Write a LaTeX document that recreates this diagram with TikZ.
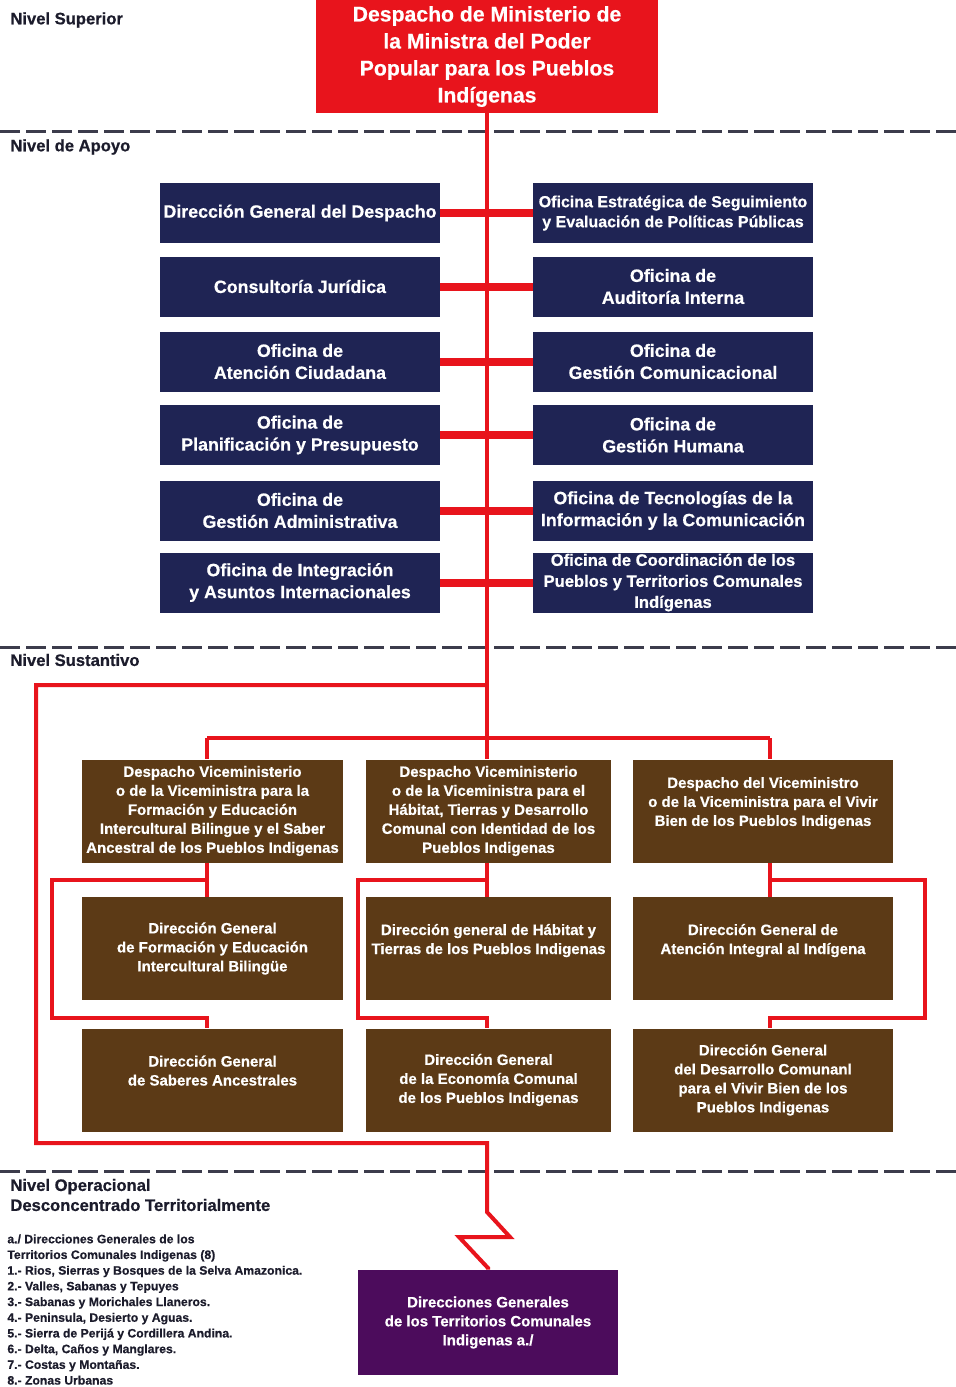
\documentclass[tikz,border=0pt]{standalone}
\usepackage{fontspec}
\setmainfont{Liberation Sans Bold}[FakeBold=0.6]
\definecolor{navyc}{RGB}{31,36,84}
\definecolor{brownc}{RGB}{92,58,22}
\definecolor{purplec}{RGB}{76,12,92}
\definecolor{redc}{RGB}{232,20,28}
\definecolor{dashc}{RGB}{60,60,76}
\definecolor{labelc}{RGB}{28,28,44}
\begin{document}
\begin{tikzpicture}[x=0.5pt,y=-0.5pt,
  navybox/.style={fill=navyc, text=white, font=\fontsize{8.9}{11}\selectfont, minimum width=140pt, minimum height=30pt, align=center, inner sep=0pt},
  brownbox/.style={fill=brownc, text=white, font=\fontsize{7.5}{9.5}\selectfont, minimum height=51.5pt, align=center, inner sep=0pt},
  topbox/.style={fill=redc, text=white, font=\fontsize{10.6}{13.5}\selectfont, minimum width=171pt, minimum height=56.5pt, align=center, inner sep=0pt},
  purplebox/.style={fill=purplec, text=white, font=\fontsize{7.5}{9.5}\selectfont, minimum width=130pt, minimum height=52.5pt, align=center, inner sep=0pt},
  redline/.style={draw=redc, line width=2pt},
  linkbar/.style={draw=redc, line width=4pt},
  levelline/.style={draw=dashc, line width=1.5pt, dash pattern=on 10pt off 3pt},
  levellabel/.style={anchor=west, text=labelc, font=\fontsize{8.3}{10}\selectfont, inner sep=0pt, align=left},
  legend/.style={anchor=north west, text=labelc, font=\fontsize{6.1}{7.85}\selectfont, inner sep=0pt, align=left}
]
\path[use as bounding box, fill=white] (0,0) rectangle (956,1387);

% level separators
\draw[levelline] (0,131) -- (956,131);
\draw[levelline] (0,647) -- (956,647);
\draw[levelline] (0,1171) -- (956,1171);

% level labels
\node[levellabel] (lsup) at (10,20) {Nivel Superior};
\node[levellabel] (lapo) at (10,147) {Nivel de Apoyo};
\node[levellabel] (lsus) at (10,660) {Nivel Sustantivo};
\node[levellabel] (lope) at (10,1195) {Nivel Operacional\\Desconcentrado Territorialmente};

% top
\node[topbox] (top) at (487,56.5) {Despacho de Ministerio de\\la Ministra del Poder\\Popular para los Pueblos\\Indígenas};

% support level
\node[navybox] (l1) at (300,213) {Dirección General del Despacho};
\node[navybox, font=\fontsize{8}{10}\selectfont] (r1) at (673,213) {Oficina Estratégica de Seguimiento\\y Evaluación de Políticas Públicas};
\node[navybox] (l2) at (300,286.5) {Consultoría Jurídica};
\node[navybox] (r2) at (673,286.5) {Oficina de\\Auditoría Interna};
\node[navybox] (l3) at (300,361.5) {Oficina de\\Atención Ciudadana};
\node[navybox] (r3) at (673,361.5) {Oficina de\\Gestión Comunicacional};
\node[navybox] (l4) at (300,435) {Oficina de\\Planificación y Presupuesto};
\node[navybox] (r4) at (673,435) {Oficina de\\Gestión Humana};
\node[navybox] (l5) at (300,510.5) {Oficina de\\Gestión Administrativa};
\node[navybox] (r5) at (673,510.5) {Oficina de Tecnologías de la\\Información y la Comunicación};
\node[navybox] (l6) at (300,582.5) {Oficina de Integración\\y Asuntos Internacionales};
\node[navybox, font=\fontsize{8.3}{10.5}\selectfont] (r6) at (673,582.5) {Oficina de Coordinación de los\\Pueblos y Territorios Comunales\\Indígenas};

% substantive level
\node[brownbox, minimum width=130.5pt] (v1) at (212.5,811) {Despacho Viceministerio\\o de la Viceministra para la\\Formación y Educación\\Intercultural Bilingue y el Saber\\Ancestral de los Pueblos Indigenas};
\node[brownbox, minimum width=122.5pt] (v2) at (488.5,811) {Despacho Viceministerio\\o de la Viceministra para el\\Hábitat, Tierras y Desarrollo\\Comunal con Identidad de los\\Pueblos Indigenas};
\node[brownbox, minimum width=130pt] (v3) at (763,811) {Despacho del Viceministro\\o de la Viceministra para el Vivir\\Bien de los Pueblos Indigenas\\\mbox{}};

\node[brownbox, minimum width=130.5pt] (d1) at (212.5,948.5) {Dirección General\\de Formación y Educación\\Intercultural Bilingüe};
\node[brownbox, minimum width=122.5pt] (d2) at (488.5,948.5) {Dirección general de Hábitat y\\Tierras de los Pueblos Indigenas\\\mbox{}};
\node[brownbox, minimum width=130pt] (d3) at (763,948.5) {Dirección General de\\Atención Integral al Indígena\\\mbox{}};

\node[brownbox, minimum width=130.5pt] (e1) at (212.5,1080) {Dirección General\\de Saberes Ancestrales\\\mbox{}};
\node[brownbox, minimum width=122.5pt] (e2) at (488.5,1080) {Dirección General\\de la Economía Comunal\\de los Pueblos Indigenas};
\node[brownbox, minimum width=130pt] (e3) at (763,1080) {Dirección General\\del Desarrollo Comunanl\\para el Vivir Bien de los\\Pueblos Indigenas};

% operational level
\node[purplebox] (p) at (488,1322.5) {Direcciones Generales\\de los Territorios Comunales\\Indigenas a./};
\node[legend] (leg) at (7,1234) {a./ Direcciones Generales de los\\Territorios Comunales Indigenas (8)\\1.- Rios, Sierras y Bosques de la Selva Amazonica.\\2.- Valles, Sabanas y Tepuyes\\3.- Sabanas y Morichales Llaneros.\\4.- Peninsula, Desierto y Aguas.\\5.- Sierra de Perijá y Cordillera Andina.\\6.- Delta, Caños y Manglares.\\7.- Costas y Montañas.\\8.- Zonas Urbanas};

% coordinates for connectors
\coordinate (bL) at (207,738);
\coordinate (bM) at (487,738);
\coordinate (bR) at (770,738);
\coordinate (sA) at (487,685);
\coordinate (sB) at (36,685);
\coordinate (sC) at (36,1143);
\coordinate (sD) at (487,1143);
\coordinate (z1) at (487,1212);
\coordinate (z2) at (510,1237);
\coordinate (z3) at (459,1237);
\coordinate (z4) at (488,1268);

% trunk
\draw[redline] (top.south) -- (top.south |- v2.north);

% support links
\foreach \i in {1,...,6}{
  \draw[linkbar] (l\i.east) -- (l\i.east -| r\i.west);
}

% vice ministries bar
\draw[redline] (bL) -- (bR);
\draw[redline] (bL) -- (bL |- v1.north);
\draw[redline] (bR) -- (bR |- v3.north);

% column 1
\draw[redline] (v1.south -| bL) -- (d1.north -| bL);
\draw[redline] (207,880) -- (52,880) -- (52,1018) -- (207,1018) -- (e1.north -| bL);
% column 2
\draw[redline] (v2.south -| bM) -- (d2.north -| bM);
\draw[redline] (487,880) -- (358,880) -- (358,1018) -- (487,1018) -- (e2.north -| bM);
% column 3
\draw[redline] (v3.south -| bR) -- (d3.north -| bR);
\draw[redline] (770,880) -- (925,880) -- (925,1018) -- (770,1018) -- (e3.north -| bR);

% outer loop to operational level
\draw[redline, line join=miter] (sA) -- (sB) -- (sC) -- (sD) -- (z1) -- (z2) -- (z3) -- (z4) -- (p.north);
\end{tikzpicture}
\end{document}
